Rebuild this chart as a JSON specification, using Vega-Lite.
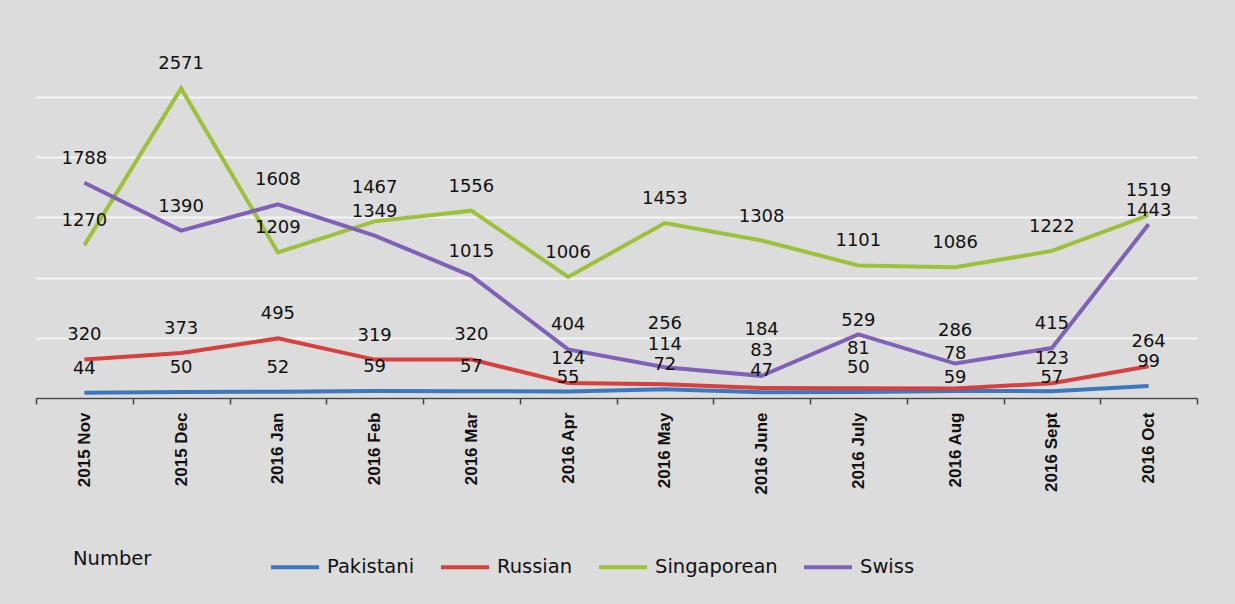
{
  "$schema": "https://vega.github.io/schema/vega-lite/v6.json",
  "width": 1161,
  "height": 301,
  "autosize": {"type": "none"},
  "padding": {"left": 36, "top": 97, "right": 38, "bottom": 206},
  "background": "#dcdcdc",
  "config": {
    "view": {"stroke": null},
    "text": {"font": "DejaVu Sans", "fontSize": 18, "color": "#111111", "baseline": "middle", "align": "center"}
  },
  "data": {
    "values": [
      {"month": "2015 Nov", "series": "Pakistani", "value": 44},
      {"month": "2015 Dec", "series": "Pakistani", "value": 50},
      {"month": "2016 Jan", "series": "Pakistani", "value": 52},
      {"month": "2016 Feb", "series": "Pakistani", "value": 59},
      {"month": "2016 Mar", "series": "Pakistani", "value": 57},
      {"month": "2016 Apr", "series": "Pakistani", "value": 55},
      {"month": "2016 May", "series": "Pakistani", "value": 72},
      {"month": "2016 June", "series": "Pakistani", "value": 47},
      {"month": "2016 July", "series": "Pakistani", "value": 50},
      {"month": "2016 Aug", "series": "Pakistani", "value": 59},
      {"month": "2016 Sept", "series": "Pakistani", "value": 57},
      {"month": "2016 Oct", "series": "Pakistani", "value": 99},
      {"month": "2015 Nov", "series": "Russian", "value": 320},
      {"month": "2015 Dec", "series": "Russian", "value": 373},
      {"month": "2016 Jan", "series": "Russian", "value": 495},
      {"month": "2016 Feb", "series": "Russian", "value": 319},
      {"month": "2016 Mar", "series": "Russian", "value": 320},
      {"month": "2016 Apr", "series": "Russian", "value": 124},
      {"month": "2016 May", "series": "Russian", "value": 114},
      {"month": "2016 June", "series": "Russian", "value": 83},
      {"month": "2016 July", "series": "Russian", "value": 81},
      {"month": "2016 Aug", "series": "Russian", "value": 78},
      {"month": "2016 Sept", "series": "Russian", "value": 123},
      {"month": "2016 Oct", "series": "Russian", "value": 264},
      {"month": "2015 Nov", "series": "Singaporean", "value": 1270},
      {"month": "2015 Dec", "series": "Singaporean", "value": 2571},
      {"month": "2016 Jan", "series": "Singaporean", "value": 1209},
      {"month": "2016 Feb", "series": "Singaporean", "value": 1467},
      {"month": "2016 Mar", "series": "Singaporean", "value": 1556},
      {"month": "2016 Apr", "series": "Singaporean", "value": 1006},
      {"month": "2016 May", "series": "Singaporean", "value": 1453},
      {"month": "2016 June", "series": "Singaporean", "value": 1308},
      {"month": "2016 July", "series": "Singaporean", "value": 1101},
      {"month": "2016 Aug", "series": "Singaporean", "value": 1086},
      {"month": "2016 Sept", "series": "Singaporean", "value": 1222},
      {"month": "2016 Oct", "series": "Singaporean", "value": 1519},
      {"month": "2015 Nov", "series": "Swiss", "value": 1788},
      {"month": "2015 Dec", "series": "Swiss", "value": 1390},
      {"month": "2016 Jan", "series": "Swiss", "value": 1608},
      {"month": "2016 Feb", "series": "Swiss", "value": 1349},
      {"month": "2016 Mar", "series": "Swiss", "value": 1015},
      {"month": "2016 Apr", "series": "Swiss", "value": 404},
      {"month": "2016 May", "series": "Swiss", "value": 256},
      {"month": "2016 June", "series": "Swiss", "value": 184},
      {"month": "2016 July", "series": "Swiss", "value": 529},
      {"month": "2016 Aug", "series": "Swiss", "value": 286},
      {"month": "2016 Sept", "series": "Swiss", "value": 415},
      {"month": "2016 Oct", "series": "Swiss", "value": 1443}
    ]
  },
  "encoding": {
    "x": {
      "field": "month",
      "type": "nominal",
      "sort": ["2015 Nov", "2015 Dec", "2016 Jan", "2016 Feb", "2016 Mar", "2016 Apr", "2016 May", "2016 June", "2016 July", "2016 Aug", "2016 Sept", "2016 Oct"],
      "scale": {"paddingInner": 0, "paddingOuter": 0},
      "axis": {
        "title": null,
        "labelAngle": -90,
        "tickBand": "extent",
        "grid": false,
        "domainColor": "#444444",
        "domainWidth": 1.5,
        "tickColor": "#444444",
        "tickWidth": 1.5,
        "tickSize": 6,
        "labelPadding": 8,
        "labelFont": "Liberation Sans",
        "labelFontWeight": "bold",
        "labelFontSize": 17,
        "labelColor": "#111111",
        "zindex": 1
      }
    },
    "y": {
      "field": "value",
      "type": "quantitative",
      "scale": {"domain": [0, 2500]},
      "axis": {
        "title": null,
        "labels": false,
        "ticks": false,
        "domain": false,
        "grid": true,
        "gridColor": "#f6f6f6",
        "gridWidth": 2,
        "values": [0, 500, 1000, 1500, 2000, 2500]
      }
    },
    "text": {"field": "value", "type": "quantitative", "format": "d"}
  },
  "layer": [
    {
      "mark": {"type": "line", "strokeWidth": 4, "clip": false},
      "encoding": {
        "text": null,
        "color": {
          "field": "series",
          "type": "nominal",
          "scale": {
            "domain": ["Pakistani", "Russian", "Singaporean", "Swiss"],
            "range": ["#3c78c0", "#d6403e", "#9cc13b", "#7f62b8"]
          },
          "legend": {
            "orient": "none",
            "legendX": 37,
            "legendY": 444,
            "direction": "horizontal",
            "title": "Number",
            "titleOrient": "left",
            "titlePadding": 117,
            "titleFont": "DejaVu Sans",
            "titleFontSize": 19.5,
            "titleFontWeight": "normal",
            "titleColor": "#111111",
            "labelFont": "DejaVu Sans",
            "labelFontSize": 19.5,
            "labelColor": "#111111",
            "labelOffset": 6,
            "columnPadding": 18,
            "symbolType": "stroke",
            "symbolSize": 2304,
            "symbolStrokeWidth": 4,
            "padding": 0
          }
        }
      }
    },
    {
      "transform": [{"filter": "indexof(['Russian|2016 May','Russian|2016 June','Russian|2016 July','Russian|2016 Aug','Swiss|2016 May','Swiss|2016 June','Swiss|2016 Aug','Pakistani|2016 Apr','Pakistani|2016 June','Pakistani|2016 Aug','Pakistani|2016 Sept','Swiss|2016 July','Swiss|2016 Oct','Singaporean|2016 Feb'], datum.series + '|' + datum.month) < 0"}],
      "mark": {"type": "text", "dy": -24}
    },
    {
      "transform": [{"filter": "indexof(['Russian|2016 May','Russian|2016 July'], datum.series + '|' + datum.month) >= 0"}],
      "mark": {"type": "text", "dy": -39}
    },
    {
      "transform": [{"filter": "datum.series == 'Russian' && datum.month == '2016 June'"}],
      "mark": {"type": "text", "dy": -37}
    },
    {
      "transform": [{"filter": "datum.series == 'Russian' && datum.month == '2016 Aug'"}],
      "mark": {"type": "text", "dy": -35}
    },
    {
      "transform": [{"filter": "datum.series == 'Swiss' && datum.month == '2016 May'"}],
      "mark": {"type": "text", "dy": -43}
    },
    {
      "transform": [{"filter": "datum.series == 'Swiss' && datum.month == '2016 June'"}],
      "mark": {"type": "text", "dy": -46}
    },
    {
      "transform": [{"filter": "indexof(['Swiss|2016 Aug','Singaporean|2016 Feb'], datum.series + '|' + datum.month) >= 0"}],
      "mark": {"type": "text", "dy": -33}
    },
    {
      "transform": [{"filter": "datum.series == 'Pakistani' && datum.month == '2016 June'"}],
      "mark": {"type": "text", "dy": -21}
    },
    {
      "transform": [{"filter": "indexof(['Pakistani|2016 Apr','Pakistani|2016 Aug','Pakistani|2016 Sept','Swiss|2016 July','Swiss|2016 Oct'], datum.series + '|' + datum.month) >= 0"}],
      "mark": {"type": "text", "dy": -13}
    }
  ]
}
